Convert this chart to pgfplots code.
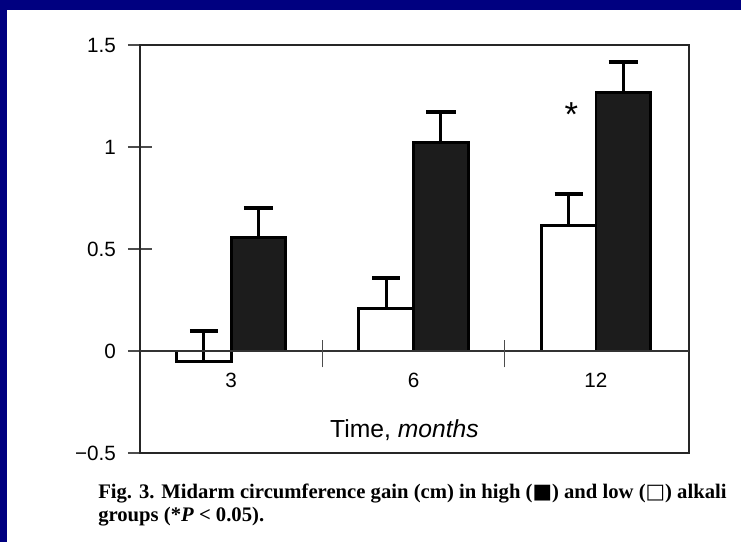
\documentclass[border=0pt]{standalone}
\usepackage{pgfplots}
\pgfplotsset{compat=1.18}
\usepackage{fontspec}
\setmainfont{Liberation Sans}
\newfontfamily\capfont{Liberation Serif}
\newfontfamily\symfont{DejaVu Sans}
\definecolor{slideblue}{RGB}{0,0,128}
\definecolor{barblack}{RGB}{28,28,28}
\begin{document}
\begin{tikzpicture}[x=1pt,y=1pt]
\fill[slideblue] (0,0) rectangle (555.75,406.5);
\fill[white] (5.25,0) rectangle (555.75,399);
\begin{axis}[
  at={(105pt,66.75pt)}, anchor=south west,
  scale only axis, width=411.75pt, height=306pt,
  xmin=-0.5, xmax=2.51, ymin=-0.5, ymax=1.5,
  axis line style={line width=2.2pt, black!85},
  /pgf/number format/assume math mode=true,
  ytick={-0.5,0,0.5,1,1.5},
  yticklabels={−0.5,0,0.5,1,1.5},
  ytick pos=left,
  tick align=center,
  major tick length=18pt,
  ytick style={line width=0.8pt, black!70},
  yticklabel style={font=\fontsize{15.5}{18}\selectfont, xshift=-5.5pt},
  xtick={0,1,2},
  xticklabels={3,6,12},
  xtick style={draw=none},
  xticklabel style={font=\fontsize{15.5}{18}\selectfont, anchor=center, yshift=63.75pt},
  clip=false,
]
\addplot[ybar, bar width=0.3, bar shift=0pt, fill=white, draw=black, line width=2.2pt,
  error bars/.cd, y dir=plus, y explicit,
  error bar style={line width=2.2pt, black},
  error mark options={rotate=90, line width=3pt, mark size=10.5pt, black}]
  coordinates {(-0.15,-0.05) +- (0,0.15) (0.85,0.21) +- (0,0.15) (1.85,0.615) +- (0,0.155)};
\addplot[ybar, bar width=0.3, bar shift=0pt, fill=barblack, draw=black, line width=2.2pt,
  error bars/.cd, y dir=plus, y explicit,
  error bar style={line width=2.2pt, black},
  error mark options={rotate=90, line width=3pt, mark size=11pt, black}]
  coordinates {(0.15,0.555) +- (0,0.145) (1.15,1.02) +- (0,0.15) (2.15,1.265) +- (0,0.15)};
\draw[line width=0.9pt, black!80] (axis cs:-0.5,0) -- (axis cs:2.51,0);
\draw[line width=0.8pt, black!70] (axis cs:0.5,-0.08) -- (axis cs:0.5,0.055);
\draw[line width=0.8pt, black!70] (axis cs:1.5,-0.08) -- (axis cs:1.5,0.055);
\node[font=\fontsize{26}{26}\selectfont, inner sep=0] at (axis cs:1.865,1.16) {*};
\node[font=\fontsize{18.5}{20}\selectfont] at (axis cs:0.95,-0.387) {Time, \textit{months}};
\end{axis}
\node[anchor=base west, inner sep=0, font=\capfont\bfseries\fontsize{15.5}{18}\selectfont] at (73.5,33) {Fig. 3. Midarm circumference gain (cm) in high ({\symfont ■}) and low ({\symfont □}) alkali};
\node[anchor=base west, inner sep=0, font=\capfont\bfseries\fontsize{15.5}{18}\selectfont] at (73.5,15.75) {groups (*\textit{P} < 0.05).};
\end{tikzpicture}
\end{document}
